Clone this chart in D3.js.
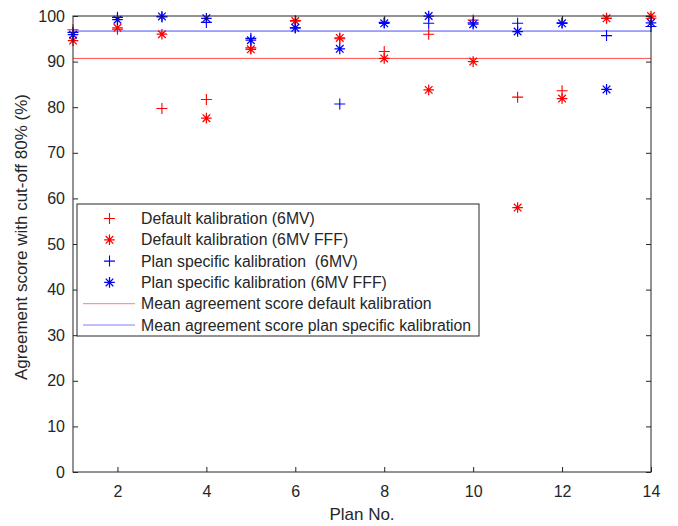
<!DOCTYPE html>
<html><head><meta charset="utf-8">
<script src="https://cdn.jsdelivr.net/npm/d3@7"></script>
<style>body{margin:0;background:#fff}svg{display:block}text{font-family:"Liberation Sans",Arial,Helvetica,sans-serif;fill:#262626}</style>
</head><body><svg id="c" width="678" height="526"></svg>
<script>
const plans = [1,2,3,4,5,6,7,8,9,10,11,12,13,14];
const defaultMV    = [97.0, 97.1, 79.7, 81.7, 93.0, 99.0, 95.0, 92.2, 96.0, 99.1, 82.2, 83.6, 99.5, 99.5];
const defaultFFF   = [94.6, 97.4, 96.0, 77.6, 92.7, 98.9, 95.2, 90.7, 83.8, 90.0, 58.0, 81.9, 99.5, 100.0];
const specificMV   = [96.4, 99.7, 99.8, 98.6, 95.1, 97.4, 80.7, 98.6, 98.4, 98.5, 98.4, 98.5, 95.7, 97.7];
const specificFFF  = [95.9, 99.2, 99.9, 99.5, 94.7, 97.4, 92.8, 98.4, 100.0, 98.2, 96.6, 98.4, 83.9, 98.5];
const meanDefault = 90.7;
const meanSpecific = 96.7;
const xTicks = [2,4,6,8,10,12,14];
const yTicks = [0,10,20,30,40,50,60,70,80,90,100];
const legendLabels = ["Default kalibration (6MV)","Default kalibration (6MV FFF)","Plan specific kalibration  (6MV)","Plan specific kalibration (6MV FFF)","Mean agreement score default kalibration","Mean agreement score plan specific kalibration"];

const svg = d3.select("#c");
const L=73, R=651, T=16, B=472;
const x = d3.scaleLinear().domain([1,14]).range([L,R]);
const y = d3.scaleLinear().domain([0,100]).range([B,T]);
const axisCol = "#262626";

const series = [
  {v: defaultMV, c:"#ff0000", m:"plus"},
  {v: defaultFFF, c:"#ff0000", m:"star"},
  {v: specificMV, c:"#0000ff", m:"plus"},
  {v: specificFFF, c:"#0000ff", m:"star"}
];

function marker(g, type, cx, cy, col){
  if(type==="plus"){
    const s=5.5;
    g.append("path").attr("d",`M${cx-s},${cy}H${cx+s}M${cx},${cy-s}V${cy+s}`).attr("stroke",col).attr("stroke-width",1.1).attr("fill","none");
  } else {
    const s=5.3, d=3.8;
    g.append("path").attr("d",`M${cx-s},${cy}H${cx+s}M${cx},${cy-s}V${cy+s}M${cx-d},${cy-d}L${cx+d},${cy+d}M${cx-d},${cy+d}L${cx+d},${cy-d}`).attr("stroke",col).attr("stroke-width",1.25).attr("fill","none");
  }
}

// mean lines
svg.append("line").attr("x1",L).attr("x2",R).attr("y1",y(meanDefault)).attr("y2",y(meanDefault)).attr("stroke","#ff0000").attr("stroke-opacity",0.7).attr("stroke-width",1);
svg.append("line").attr("x1",L).attr("x2",R).attr("y1",y(meanSpecific)).attr("y2",y(meanSpecific)).attr("stroke","#0000ff").attr("stroke-opacity",0.7).attr("stroke-width",1);

// points
const pg = svg.append("g");
series.forEach(s=>{
  plans.forEach((p,i)=>marker(pg, s.m, x(p), y(s.v[i]), s.c));
});

// axes
const tl = 5;
const ax = svg.append("g").attr("stroke",axisCol).attr("fill","none");
ax.append("rect").attr("x",L).attr("y",T).attr("width",R-L).attr("height",B-T).attr("stroke-width",1);
svg.append("g").attr("transform",`translate(0,${B})`).call(d3.axisBottom(x).tickValues(xTicks).tickSize(-tl).tickFormat(d3.format("d")))
  .call(g=>{g.select(".domain").remove();g.selectAll("line").attr("stroke",axisCol);g.selectAll("text").attr("font-size",16).attr("dy","1.4em").attr("fill",axisCol);});
svg.append("g").attr("transform",`translate(0,${T})`).call(d3.axisTop(x).tickValues(xTicks).tickSize(-tl).tickFormat(""))
  .call(g=>{g.select(".domain").remove();g.selectAll("line").attr("stroke",axisCol);});
svg.append("g").attr("transform",`translate(${L},0)`).call(d3.axisLeft(y).tickValues(yTicks).tickSize(-tl).tickPadding(8))
  .call(g=>{g.select(".domain").remove();g.selectAll("line").attr("stroke",axisCol);g.selectAll("text").attr("font-size",16).attr("fill",axisCol);});
svg.append("g").attr("transform",`translate(${R},0)`).call(d3.axisRight(y).tickValues(yTicks).tickSize(-tl).tickFormat(""))
  .call(g=>{g.select(".domain").remove();g.selectAll("line").attr("stroke",axisCol);});

// labels
svg.append("text").attr("x",(L+R)/2).attr("y",520).attr("text-anchor","middle").attr("font-size",17).text("Plan No.");
svg.append("text").attr("transform","translate(27,237) rotate(-90)").attr("text-anchor","middle").attr("font-size",17).text("Agreement score with cut-off 80% (%)");

// legend
const lg = svg.append("g");
lg.append("rect").attr("x",77).attr("y",204).attr("width",402).attr("height",132).attr("fill","#fff").attr("stroke",axisCol).attr("stroke-width",1);
const rowY = i => 218.5 + i*21.3;
series.forEach((s,i)=>marker(lg, s.m, 109.5, rowY(i), s.c));
lg.append("line").attr("x1",83).attr("x2",135).attr("y1",rowY(4)).attr("y2",rowY(4)).attr("stroke","#ff0000").attr("stroke-opacity",0.5);
lg.append("line").attr("x1",83).attr("x2",135).attr("y1",rowY(5)).attr("y2",rowY(5)).attr("stroke","#0000ff").attr("stroke-opacity",0.5);
legendLabels.forEach((t,i)=>lg.append("text").attr("x",141).attr("y",rowY(i)).attr("dy","0.35em").attr("font-size",15.8).style("white-space","pre").text(t));
</script></body></html>
